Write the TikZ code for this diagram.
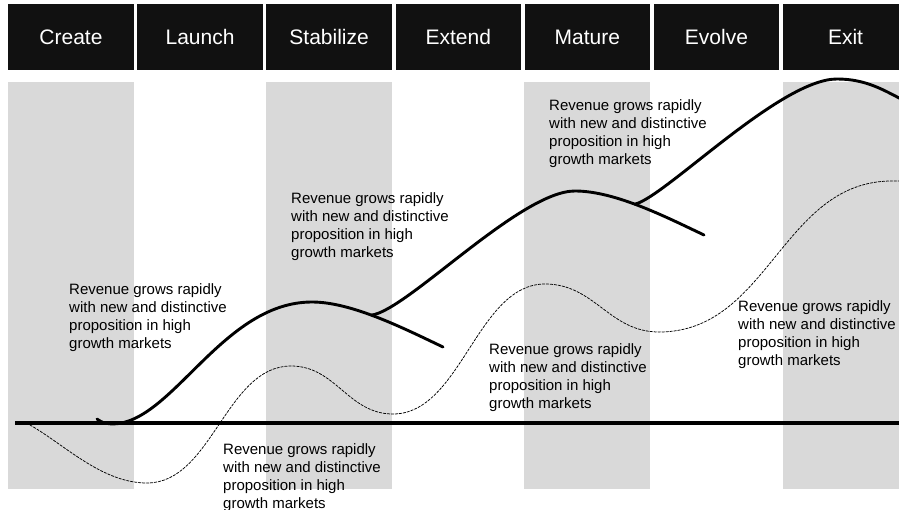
\documentclass[tikz,border=0pt]{standalone}
\usepackage{fontspec}
\setmainfont{Liberation Sans}
\usepackage{tikz}
\usetikzlibrary{positioning}

\definecolor{stagebg}{HTML}{111111}
\definecolor{bandgray}{HTML}{D9D9D9}

\begin{document}
\begin{tikzpicture}[x=1pt, y=-1pt, line cap = round,
        stage/.style={fill=stagebg, text=white, font=\fontsize{21}{25}\selectfont, minimum width=125.5pt, minimum height=66pt, inner sep=0pt, anchor=north west},
        note/.style={align=left, anchor=north west, inner sep=0pt, text=black, font=\fontsize{15}{18}\selectfont},
        wave/.style={line width=2.9pt},
        trend/.style={line width=0.75pt, dash pattern=on 2.5pt off 1.5pt}]
            \clip (0, 0) rectangle (899, 510);
            \useasboundingbox (0, 0) rectangle (899, 510);
            % stage headers
            \node[stage] (create) at (8, 4) {Create};
            \node[stage, right=3.2pt of create] (launch) {Launch};
            \node[stage, right=3.2pt of launch] (stabilize) {Stabilize};
            \node[stage, right=3.2pt of stabilize] (extend) {Extend};
            \node[stage, right=3.2pt of extend] (mature) {Mature};
            \node[stage, right=3.2pt of mature] (evolve) {Evolve};
            \node[stage, right=3.2pt of evolve] (exit) {Exit};
            % gray bands under every second stage
            \fill[bandgray] (create.west |- 0,82) rectangle (create.east |- 0,489);
            \fill[bandgray] (stabilize.west |- 0,82) rectangle (stabilize.east |- 0,489);
            \fill[bandgray] (mature.west |- 0,82) rectangle (mature.east |- 0,489);
            \fill[bandgray] (exit.west |- 0,82) rectangle (exit.east |- 0,489);
            % zero line
            \draw[line width=4pt, line cap=butt] (15, 423) -- (905, 423);
            % dashed trend
            \draw[trend] (30, 425) .. controls +(35, 20) and +(-45, 0) .. (147, 483)
                .. controls +(65, 0) and +(-65, 0) .. (291, 366)
                .. controls +(45, 0) and +(-45, 0) .. (393, 414)
                .. controls +(68, 0) and +(-68, 0) .. (545, 284)
                .. controls +(50, 0) and +(-50, 0) .. (659, 332)
                .. controls +(110, 0) and +(-110, 0) .. (892, 181) -- (905, 181);
            % first wave
            \draw[wave] (97, 419) .. controls (103, 423) .. (112, 424)
                .. controls +(60, 0) and +(-90, 0) .. (312, 302)
                .. controls +(40, 0) and +(-38, -18) .. coordinate[pos=.45] (fork1) (443, 347);
            % second wave, branching off the first
            \draw[wave] (fork1) .. controls +(35, -4) and +(-55, 0) .. (575, 191)
                .. controls +(40, 0) and +(-38, -18) .. coordinate[pos=.46] (fork2) (704, 235);
            % third wave, branching off the second
            \draw[wave] (fork2) .. controls +(30, -7) and +(-57, 0) .. (837, 79)
                .. controls +(30, 0) and +(-20, -10) .. (905, 101);
            % notes
            \node[note] (note1) at (69, 283) {Revenue grows rapidly\\with new and distinctive\\proposition in high\\growth markets};
            \node[note] (note2) at (291, 192) {Revenue grows rapidly\\with new and distinctive\\proposition in high\\growth markets};
            \node[note] (note3) at (549, 99) {Revenue grows rapidly\\with new and distinctive\\proposition in high\\growth markets};
            \node[note] (note4) at (223, 443) {Revenue grows rapidly\\with new and distinctive\\proposition in high\\growth markets};
            \node[note] (note5) at (489, 343) {Revenue grows rapidly\\with new and distinctive\\proposition in high\\growth markets};
            \node[note] (note6) at (738, 300) {Revenue grows rapidly\\with new and distinctive\\proposition in high\\growth markets};
        \end{tikzpicture}
\end{document}
